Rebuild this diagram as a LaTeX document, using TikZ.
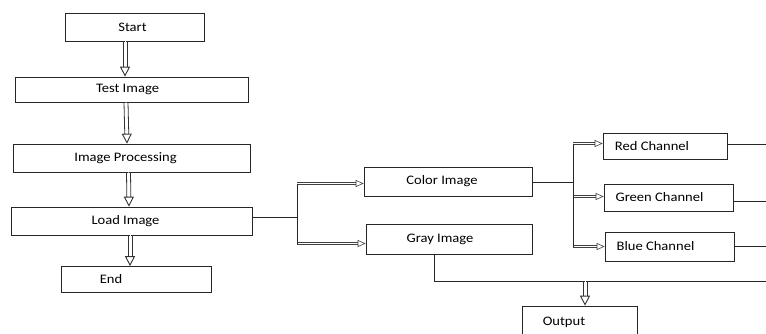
\documentclass[tikz,border=0pt]{standalone}
\usepackage{fontspec}
\setmainfont{Carlito}
\usetikzlibrary{arrows.meta}
\newcommand{\wide}[1]{\scalebox{1.12}[1]{#1}}
\tikzset{
  box/.style={draw=black!85, line width=0.7pt, rectangle, inner sep=0pt},
  txt/.style={font=\fontsize{13}{15}\selectfont, text=black},
  conn/.style={draw=black!85, line width=0.7pt},
  vdbl/.style={draw=white, line width=0.9pt, -{Triangle[open, length=10pt, width=10pt, color=black!80]},
    preaction={draw=black!80, line width=0.8pt, -, shorten >=9.6pt, transform canvas={xshift=2pt}},
    preaction={draw=black!80, line width=0.8pt, -, shorten >=9.6pt, transform canvas={xshift=-2pt}}},
  hdbl/.style={draw=white, line width=0.6pt, -{Triangle[open, length=8pt, width=7pt, color=black!75]},
    preaction={draw=black!75, line width=0.7pt, -, shorten >=7.6pt, transform canvas={yshift=1.1pt}},
    preaction={draw=black!75, line width=0.7pt, -, shorten >=7.6pt, transform canvas={yshift=-1.1pt}}}
}
\begin{document}
\begin{tikzpicture}[x=1pt, y=-1pt]
\clip (0,0) rectangle (766,333);
\fill[white] (0,0) rectangle (766,333);
% left column
\node[box, minimum width=139, minimum height=28, label={[txt, xshift=-2pt]center:\wide{Start}}] (start) at (134.5,27) {};
\node[box, minimum width=233, minimum height=25, label={[txt, xshift=-4pt]center:\wide{Test Image}}] (test) at (131.5,89.5) {};
\node[box, minimum width=237, minimum height=28, label={[txt, xshift=-6pt]center:\wide{Image Processing}}] (proc) at (131.5,158) {};
\node[box, minimum width=241, minimum height=28, label={[txt, xshift=-6pt]center:\wide{Load Image}}] (load) at (131.5,221) {};
\node[box, minimum width=150, minimum height=26, label={[txt, xshift=-25pt]center:\wide{End}}] (end) at (136,279.5) {};
% middle
\node[box, minimum width=168, minimum height=29, label={[txt, xshift=-6pt]center:\wide{Color Image}}] (color) at (448,181.5) {};
\node[box, minimum width=166, minimum height=30, label={[txt, xshift=-9pt]center:\wide{Gray Image}}] (gray) at (449,239) {};
% right
\node[box, minimum width=124, minimum height=26, label={[txt, xshift=-13pt]center:\wide{Red Channel}}] (red) at (665,146) {};
\node[box, minimum width=129, minimum height=27, label={[txt, xshift=-9pt]center:\wide{Green Channel}}] (green) at (668.5,197.5) {};
\node[box, minimum width=129, minimum height=29, label={[txt, xshift=-14pt]center:\wide{Blue Channel}}] (blue) at (669.5,246.5) {};
\node[box, minimum width=115, minimum height=34, label={[txt, xshift=-16pt, yshift=1pt]center:\wide{Output}}] (out) at (580,323) {};
% coordinates
\coordinate (lsplit) at (297,217);
\coordinate (ctop) at (297,183.5);
\coordinate (cbot) at (297,243.5);
\coordinate (csplit) at (573,182);
\coordinate (rtop) at (573,143.5);
\coordinate (rmid) at (573,196.5);
\coordinate (rbot) at (573,246.5);
\coordinate (gdown) at (434,281);
\coordinate (redge) at (766,281);
\coordinate (outtop) at (585,281);
\coordinate (rend) at (766,144);
\coordinate (gend) at (766,201);
\coordinate (bend) at (766,246);
% vertical double arrows
\draw[vdbl] ([xshift=-9.5pt]start.south) -- ([xshift=-6.5pt]test.north);
\draw[vdbl] ([xshift=-5.5pt]test.south) -- ([xshift=-4.5pt]proc.north);
\draw[vdbl] ([xshift=-3pt]proc.south) -- ([xshift=-2.5pt]load.north);
\draw[vdbl] ([xshift=-1.5pt]load.south) -- ([xshift=-6pt]end.north);
% load -> color / gray
\draw[conn] (load.east |- lsplit) -- (lsplit);
\draw[hdbl] (ctop) -- (color.west |- ctop);
\draw[hdbl] (cbot) -- (gray.west |- cbot);
\draw[conn] (ctop) -- (cbot);
% color -> channels
\draw[conn] (color.east |- csplit) -- (csplit);
\draw[hdbl] (rtop) -- (red.west |- rtop);
\draw[hdbl] (rmid) -- (green.west |- rmid);
\draw[hdbl] (rbot) -- (blue.west |- rbot);
\draw[conn] (rtop) -- (rbot);
% channels to right edge
\draw[conn] (red.east |- rend) -- (rend);
\draw[conn] (green.east |- gend) -- (gend);
\draw[conn] (blue.east |- bend) -- (bend);
% gray -> output
\draw[conn] (gray.south -| gdown) -- (gdown) -- (redge);
\draw[vdbl] (outtop) -- (out.north -| outtop);
\end{tikzpicture}
\end{document}
